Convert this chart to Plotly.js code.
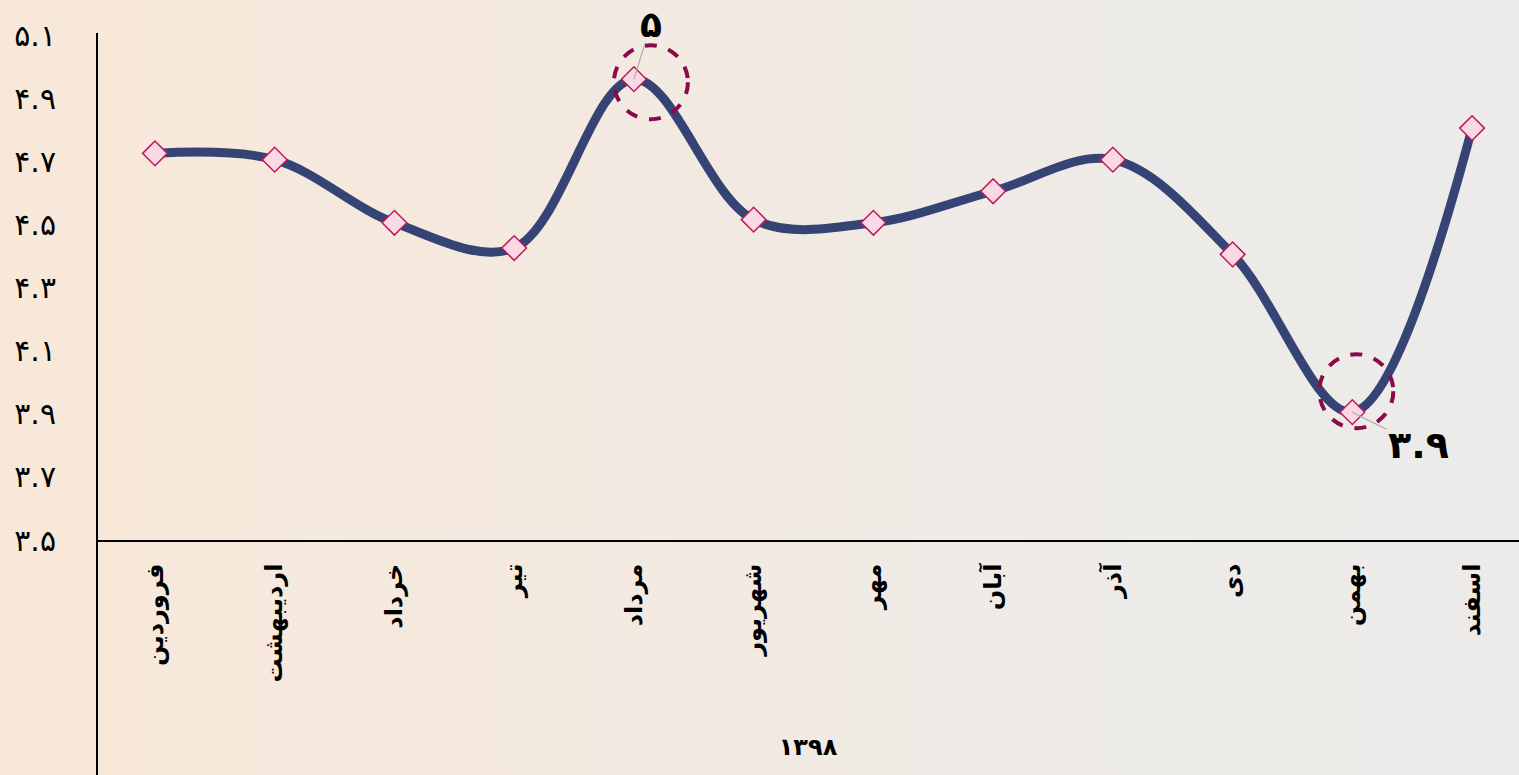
<!DOCTYPE html>
<html>
<head>
<meta charset="utf-8">
<script src="https://cdn.plot.ly/plotly-3.0.1.min.js"></script>
<style>
html, body { margin:0; padding:0; }
body { width:1519px; height:775px; overflow:hidden;
  background: linear-gradient(to right, #f8e8d9 0%, #f4e9df 35%, #eeebe7 70%, #ecebea 100%); }
#chart { width:1519px; height:775px; }
</style>
</head>
<body>
<div id="chart"></div>
<script>
// Data
var months = ['فروردین','اردیبهشت','خرداد','تیر','مرداد','شهریور','مهر','آبان','آذر','دی','بهمن','اسفند'];
var values = [4.725, 4.705, 4.505, 4.425, 4.96, 4.515, 4.505, 4.605, 4.705, 4.405, 3.905, 4.805];
var yTickVals = [3.5, 3.7, 3.9, 4.1, 4.3, 4.5, 4.7, 4.9, 5.1];
var xTitle = '۱۳۹۸';

function fa(s) {
  return String(s).replace(/[0-9]/g, function(d){ return '۰۱۲۳۴۵۶۷۸۹'[+d]; });
}
function fmt(v) {
  var r = Math.round(v * 10) / 10;
  return fa(r.toString());
}

var yTickText = yTickVals.map(function(v){ return fa(v.toFixed(1)); });

var maxIdx = 0, minIdx = 0;
values.forEach(function(v, i){ if (v > values[maxIdx]) maxIdx = i; if (v < values[minIdx]) minIdx = i; });

var FONT = 'DejaVu Sans, Noto Sans, sans-serif';

var trace = {
  x: months, y: values, type: 'scatter', mode: 'lines+markers',
  line: { shape: 'spline', smoothing: 1.0, color: '#354475', width: 9 },
  marker: { symbol: 'diamond', size: 19, color: '#f9d9e3', line: { color: '#c2185b', width: 1.5 } },
  hoverinfo: 'x+y'
};

var circleStyle = { color: '#8b0a4c', width: 4, dash: 'dash' };

var layout = {
  width: 1519, height: 775,
  margin: { l: 97, r: 0, t: 35, b: 235 },
  paper_bgcolor: 'rgba(0,0,0,0)', plot_bgcolor: 'rgba(0,0,0,0)',
  showlegend: false,
  font: { family: FONT, color: '#000' },
  xaxis: {
    type: 'category', range: [-0.484, 11.392],
    showgrid: false, zeroline: false, showline: true, linecolor: '#000', linewidth: 2,
    ticks: '', tickangle: -90, ticklabelstandoff: 12,
    tickfont: { family: FONT, size: 24, weight: 700, color: '#000' },
    title: { text: xTitle, font: { family: FONT, size: 24, weight: 700, color: '#000' }, standoff: 57 },
    fixedrange: true
  },
  yaxis: {
    range: [3.5, 5.1], showgrid: false, zeroline: false, showline: false,
    tickvals: yTickVals, ticktext: yTickText, ticks: '', ticklabelstandoff: 40,
    tickfont: { family: FONT, size: 30, color: '#000' },
    fixedrange: true
  },
  shapes: [
    { type: 'line', xref: 'paper', yref: 'paper', x0: 0, x1: 0, y0: -0.47, y1: 1.004,
      line: { color: '#000', width: 2 } },
    { type: 'circle', xref: 'x', yref: 'y', xsizemode: 'pixel', ysizemode: 'pixel',
      xanchor: maxIdx, yanchor: values[maxIdx], x0: -20, x1: 54, y0: -40, y1: 34,
      line: circleStyle, layer: 'above' },
    { type: 'circle', xref: 'x', yref: 'y', xsizemode: 'pixel', ysizemode: 'pixel',
      xanchor: minIdx, yanchor: values[minIdx], x0: -33, x1: 41, y0: -16, y1: 58,
      line: circleStyle, layer: 'above' }
  ],
  annotations: [
    { x: maxIdx, y: values[maxIdx], xref: 'x', yref: 'y', text: fmt(values[maxIdx]),
      showarrow: true, arrowhead: 0, arrowwidth: 1.2, arrowcolor: '#aaaaaa',
      ax: 17, ay: -55, font: { family: FONT, size: 36, weight: 700, color: '#000' } },
    { x: minIdx, y: values[minIdx], xref: 'x', yref: 'y', text: fmt(values[minIdx]),
      showarrow: true, arrowhead: 0, arrowwidth: 1.2, arrowcolor: '#aaaaaa',
      ax: 66, ay: 33, font: { family: FONT, size: 38, weight: 700, color: '#000' } }
  ]
};

Plotly.newPlot('chart', [trace], layout, { displayModeBar: false, staticPlot: true });
</script>
</body>
</html>
